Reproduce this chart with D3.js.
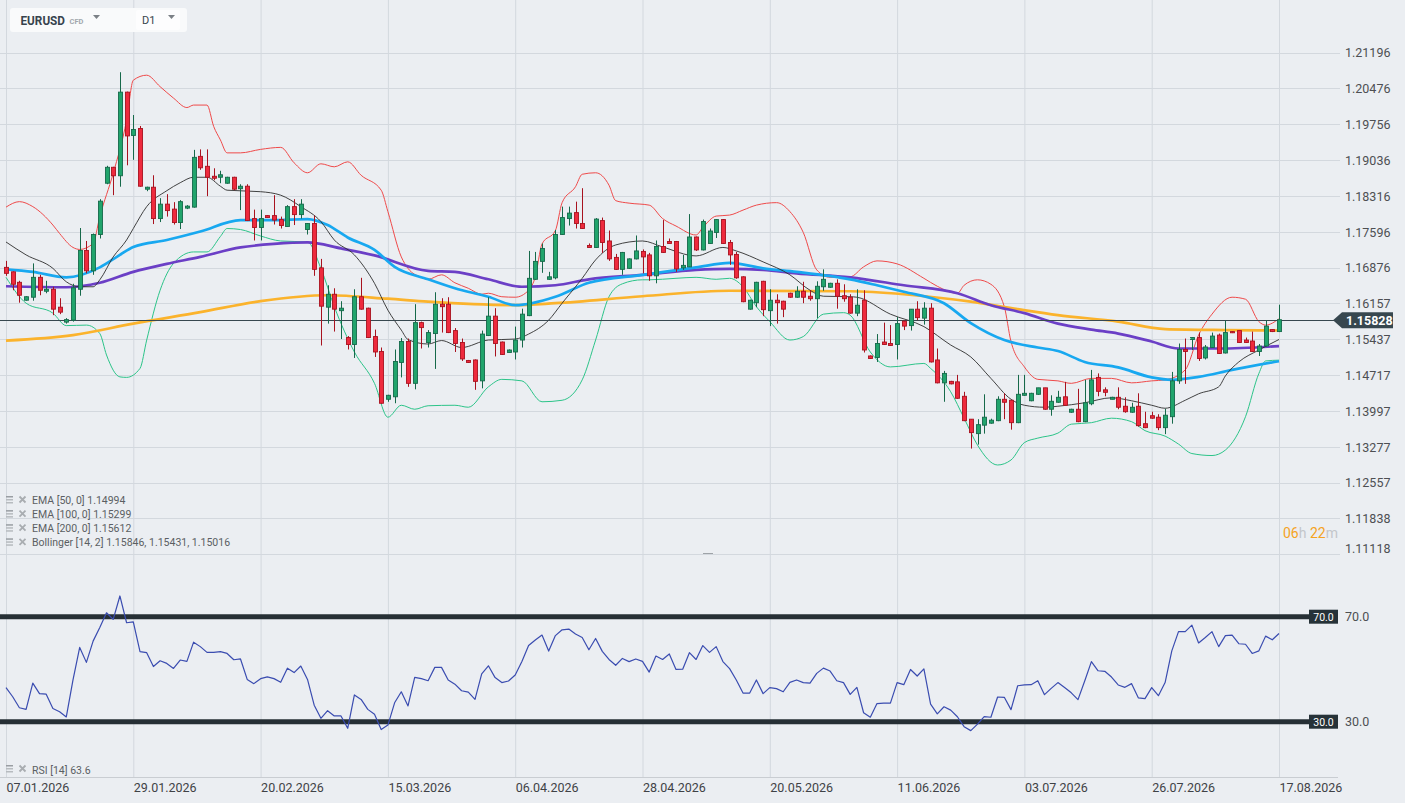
<!DOCTYPE html>
<html>
<head>
<meta charset="utf-8">
<script src="https://cdn.jsdelivr.net/npm/d3@7"></script>
<style>
  body { margin: 0; background: #ebeef2; font-family: Roboto, "Noto Sans", sans-serif; }
  svg { display: block; }
</style>
</head>
<body>
<div id="chart"></div>
<script>
// ---- data ----
const dateLabels = ["07.01.2026", "29.01.2026", "20.02.2026", "15.03.2026", "06.04.2026", "28.04.2026",
  "20.05.2026", "11.06.2026", "03.07.2026", "26.07.2026", "17.08.2026"];
const dateIdx = [0, 19, 38, 57, 76, 95, 114, 133, 152, 171, 190];

const priceTicks = [1.21196, 1.20476, 1.19756, 1.19036, 1.18316, 1.17596, 1.16876, 1.16157,
  1.15437, 1.14717, 1.13997, 1.13277, 1.12557, 1.11838, 1.11118];

const open = [1.1688,1.1679,1.1658,1.1622,1.1628,1.1668,1.1640,1.1644,1.1608,1.1578,
  1.1582,1.1644,1.1722,1.1681,1.1754,1.1857,1.1889,1.1872,1.2040,1.1953,
  1.1967,1.1845,1.1849,1.1786,1.1815,1.1805,1.1778,1.1807,1.1809,1.1911,
  1.1891,1.1871,1.1869,1.1857,1.1869,1.1846,1.1851,1.1786,1.1768,1.1792,
  1.1792,1.1784,1.1770,1.1810,1.1794,1.1764,1.1776,1.1687,1.1608,1.1634,
  1.1601,1.1547,1.1533,1.1629,1.1606,1.1549,1.1519,1.1423,1.1428,1.1497,
  1.1539,1.1455,1.1577,1.1537,1.1555,1.1614,1.1614,1.1561,1.1537,1.1501,
  1.1502,1.1460,1.1551,1.1590,1.1538,1.1517,1.1518,1.1542,1.1591,1.1664,
  1.1700,1.1664,1.1667,1.1754,1.1786,1.1798,1.1776,1.1732,1.1728,1.1782,
  1.1741,1.1708,1.1684,1.1686,1.1705,1.1720,1.1713,1.1671,1.1730,1.1740,
  1.1740,1.1687,1.1689,1.1749,1.1723,1.1736,1.1758,1.1784,1.1738,1.1714,
  1.1669,1.1604,1.1617,1.1660,1.1601,1.1622,1.1620,1.1636,1.1628,1.1640,
  1.1630,1.1625,1.1649,1.1648,1.1656,1.1631,1.1628,1.1596,1.1622,1.1510,
  1.1507,1.1538,1.1535,1.1533,1.1580,1.1571,1.1604,1.1586,1.1606,1.1502,
  1.1456,1.1459,1.1458,1.1429,1.1383,1.1354,1.1371,1.1375,1.1380,1.1423,
  1.1421,1.1376,1.1431,1.1420,1.1433,1.1446,1.1403,1.1417,1.1428,1.1397,
  1.1403,1.1378,1.1414,1.1467,1.1442,1.1423,1.1427,1.1409,1.1397,1.1409,
  1.1374,1.1390,1.1387,1.1366,1.1388,1.1460,1.1523,1.1543,1.1547,1.1506,
  1.1527,1.1552,1.1516,1.1559,1.1561,1.1542,1.1540,1.1519,1.1530,1.1563,
  1.1559];
const high = [1.1701,1.1680,1.1661,1.1630,1.1696,1.1673,1.1661,1.1649,1.1626,1.1586,
  1.1655,1.1767,1.1741,1.1756,1.1825,1.1892,1.1890,1.2080,1.2041,1.1994,
  1.1972,1.1850,1.1873,1.1827,1.1835,1.1819,1.1823,1.1813,1.1924,1.1925,
  1.1925,1.1887,1.1882,1.1870,1.1870,1.1855,1.1855,1.1804,1.1804,1.1793,
  1.1833,1.1790,1.1813,1.1825,1.1825,1.1777,1.1792,1.1705,1.1652,1.1646,
  1.1620,1.1550,1.1644,1.1667,1.1607,1.1563,1.1527,1.1432,1.1523,1.1546,
  1.1545,1.1614,1.1579,1.1562,1.1638,1.1626,1.1628,1.1566,1.1545,1.1502,
  1.1503,1.1561,1.1628,1.1606,1.1539,1.1523,1.1569,1.1605,1.1721,1.1719,
  1.1736,1.1679,1.1763,1.1810,1.1810,1.1820,1.1847,1.1736,1.1787,1.1788,
  1.1762,1.1715,1.1719,1.1706,1.1752,1.1724,1.1717,1.1742,1.1783,1.1746,
  1.1741,1.1713,1.1795,1.1750,1.1784,1.1766,1.1785,1.1785,1.1743,1.1719,
  1.1670,1.1623,1.1659,1.1661,1.1644,1.1634,1.1621,1.1637,1.1650,1.1659,
  1.1642,1.1660,1.1684,1.1657,1.1664,1.1654,1.1634,1.1644,1.1642,1.1511,
  1.1554,1.1577,1.1572,1.1588,1.1581,1.1604,1.1620,1.1618,1.1616,1.1525,
  1.1480,1.1460,1.1472,1.1438,1.1383,1.1383,1.1433,1.1384,1.1429,1.1435,
  1.1421,1.1472,1.1472,1.1436,1.1446,1.1446,1.1431,1.1440,1.1458,1.1404,
  1.1444,1.1462,1.1482,1.1475,1.1447,1.1428,1.1447,1.1427,1.1416,1.1435,
  1.1398,1.1398,1.1393,1.1404,1.1478,1.1535,1.1545,1.1548,1.1557,1.1532,
  1.1557,1.1555,1.1581,1.1560,1.1561,1.1547,1.1559,1.1534,1.1582,1.1564,
  1.1613];
const low = [1.1671,1.1642,1.1617,1.1621,1.1621,1.1632,1.1636,1.1592,1.1594,1.1575,
  1.1579,1.1631,1.1676,1.1673,1.1746,1.1855,1.1833,1.1850,1.1893,1.1904,
  1.1850,1.1841,1.1775,1.1779,1.1790,1.1774,1.1765,1.1805,1.1808,1.1884,
  1.1831,1.1863,1.1857,1.1856,1.1843,1.1803,1.1781,1.1742,1.1742,1.1788,
  1.1774,1.1766,1.1770,1.1773,1.1786,1.1754,1.1671,1.1531,1.1575,1.1559,
  1.1544,1.1523,1.1506,1.1603,1.1546,1.1508,1.1414,1.1418,1.1415,1.1467,
  1.1448,1.1443,1.1525,1.1527,1.1484,1.1557,1.1556,1.1518,1.1500,1.1496,
  1.1442,1.1445,1.1550,1.1509,1.1512,1.1517,1.1503,1.1527,1.1590,1.1663,
  1.1677,1.1663,1.1664,1.1753,1.1772,1.1766,1.1765,1.1728,1.1727,1.1717,
  1.1701,1.1683,1.1673,1.1685,1.1704,1.1676,1.1661,1.1656,1.1717,1.1736,
  1.1679,1.1683,1.1689,1.1721,1.1722,1.1735,1.1747,1.1735,1.1693,1.1665,
  1.1618,1.1603,1.1608,1.1590,1.1570,1.1575,1.1588,1.1627,1.1627,1.1616,
  1.1621,1.1586,1.1641,1.1647,1.1605,1.1619,1.1595,1.1590,1.1517,1.1504,
  1.1498,1.1532,1.1530,1.1503,1.1562,1.1561,1.1582,1.1573,1.1497,1.1455,
  1.1418,1.1453,1.1424,1.1379,1.1324,1.1332,1.1354,1.1374,1.1379,1.1383,
  1.1362,1.1375,1.1430,1.1419,1.1432,1.1402,1.1390,1.1416,1.1410,1.1396,
  1.1377,1.1377,1.1411,1.1429,1.1429,1.1423,1.1403,1.1396,1.1396,1.1368,
  1.1365,1.1384,1.1361,1.1353,1.1374,1.1454,1.1454,1.1522,1.1500,1.1503,
  1.1526,1.1514,1.1515,1.1556,1.1536,1.1536,1.1518,1.1510,1.1529,1.1558,
  1.1558];
const close = [1.1676,1.1654,1.1632,1.1629,1.1668,1.1642,1.1644,1.1604,1.1598,1.1583,
  1.1647,1.1722,1.1681,1.1754,1.1821,1.1889,1.1872,1.2040,1.1952,1.1965,
  1.1851,1.1849,1.1786,1.1815,1.1802,1.1778,1.1820,1.1811,1.1909,1.1888,
  1.1869,1.1867,1.1874,1.1869,1.1845,1.1851,1.1782,1.1768,1.1786,1.1788,
  1.1783,1.1772,1.1810,1.1794,1.1815,1.1776,1.1684,1.1610,1.1634,1.1604,
  1.1606,1.1533,1.1629,1.1604,1.1547,1.1518,1.1415,1.1431,1.1499,1.1539,
  1.1455,1.1577,1.1567,1.1557,1.1614,1.1609,1.1557,1.1535,1.1504,1.1497,
  1.1459,1.1554,1.1590,1.1535,1.1513,1.1522,1.1542,1.1594,1.1666,1.1700,
  1.1726,1.1669,1.1754,1.1788,1.1797,1.1776,1.1766,1.1728,1.1785,1.1738,
  1.1705,1.1684,1.1718,1.1705,1.1721,1.1709,1.1671,1.1730,1.1718,1.1736,
  1.1685,1.1692,1.1749,1.1723,1.1780,1.1761,1.1784,1.1736,1.1713,1.1667,
  1.1619,1.1622,1.1658,1.1603,1.1622,1.1617,1.1604,1.1628,1.1640,1.1628,
  1.1625,1.1650,1.1664,1.1656,1.1630,1.1625,1.1596,1.1612,1.1522,1.1505,
  1.1535,1.1533,1.1531,1.1575,1.1570,1.1604,1.1587,1.1606,1.1498,1.1456,
  1.1475,1.1454,1.1425,1.1380,1.1356,1.1372,1.1387,1.1381,1.1423,1.1417,
  1.1376,1.1433,1.1435,1.1435,1.1446,1.1403,1.1419,1.1427,1.1411,1.1403,
  1.1378,1.1416,1.1462,1.1439,1.1437,1.1427,1.1407,1.1398,1.1407,1.1370,
  1.1366,1.1385,1.1366,1.1391,1.1460,1.1523,1.1519,1.1547,1.1505,1.1528,
  1.1550,1.1515,1.1557,1.1557,1.1537,1.1537,1.1519,1.1530,1.1570,1.1559,
  1.15828];

const ema50Idx = [0,4,9,14,17,19,24,29,35,40,45,48,51,55,58,63,67,72,76,82,87,95,103,108,113,118,126,130,134,140,144,149,154,157,161,166,171,174,178,183,190];
const ema50 = [1.1684,1.1679,1.1668,1.1688,1.1713,1.1729,1.1743,1.1760,1.1783,1.1783,1.1785,1.1773,1.1748,1.1723,1.1689,1.1664,1.1646,1.1629,1.1612,1.1629,1.1657,1.1673,1.1688,1.1697,1.1686,1.1679,1.1664,1.1652,1.1639,1.1616,1.1576,1.1542,1.1527,1.1520,1.1498,1.1487,1.1467,1.1462,1.1468,1.1482,1.14994];

const ema100Idx = [0,9,14,19,24,29,35,40,45,50,55,63,67,72,77,82,87,95,103,108,113,118,126,134,142,147,152,157,162,166,171,175,181,190];
const ema100 = [1.1650,1.1648,1.1657,1.1679,1.1695,1.1709,1.1728,1.1735,1.1738,1.1726,1.1712,1.1681,1.1679,1.1664,1.1649,1.1652,1.1664,1.1673,1.1683,1.1685,1.1683,1.1676,1.1668,1.1652,1.1636,1.1612,1.1596,1.1575,1.1563,1.1555,1.1539,1.1525,1.1525,1.15299];

const ema200Idx = [0,10,19,29,38,48,57,63,76,82,95,108,126,134,144,151,157,166,173,182,190];
const ema200 = [1.1541,1.1552,1.1575,1.1598,1.1620,1.1632,1.1625,1.1619,1.1612,1.1616,1.1630,1.1641,1.1640,1.1634,1.1619,1.1604,1.1592,1.1579,1.1564,1.1562,1.15612];

const bbUpperIdx = [0,2,4,7,8,10,11,13,14,16,18,19,21,23,25,27,28,30,31,32,33,35,38,41,43,45,47,49,51,53,56,57,59,60,62,63,65,67,69,71,72,74,76,78,79,80,82,83,85,86,88,90,91,93,96,98,100,103,104,106,108,110,112,115,117,119,121,123,126,128,130,133,137,139,142,143,145,147,149,150,152,154,157,159,162,165,168,171,173,176,178,180,183,185,187,188,190];
const bbUpper = [1.1809,1.1820,1.1810,1.1773,1.1756,1.1728,1.1724,1.1736,1.1790,1.1877,
  1.1984,1.2064,1.2074,1.2051,1.2028,1.2009,1.2014,1.2014,1.1971,1.1944,
  1.1918,1.1918,1.1925,1.1929,1.1898,1.1878,1.1896,1.1890,1.1900,1.1873,
  1.1843,1.1800,1.1709,1.1686,1.1668,1.1664,1.1673,1.1657,1.1646,1.1634,
  1.1636,1.1629,1.1628,1.1642,1.1669,1.1735,1.1762,1.1818,1.1850,1.1875,
  1.1878,1.1853,1.1822,1.1817,1.1813,1.1786,1.1771,1.1753,1.1768,1.1791,
  1.1793,1.1803,1.1813,1.1818,1.1800,1.1758,1.1683,1.1668,1.1669,1.1689,
  1.1701,1.1695,1.1666,1.1650,1.1636,1.1652,1.1663,1.1654,1.1609,1.1539,
  1.1488,1.1463,1.1460,1.1455,1.1465,1.1465,1.1456,1.1460,1.1462,1.1482,
  1.1552,1.1594,1.1628,1.1624,1.1579,1.1572,1.15846];

const bbMidIdx = [0,3,7,9,11,13,14,16,18,19,21,24,26,28,30,32,33,38,41,44,47,49,52,55,57,59,60,63,65,68,72,76,78,81,83,86,88,91,95,98,103,107,109,113,117,120,122,126,127,132,137,141,144,147,150,152,155,157,161,165,168,171,173,176,178,181,182,184,187,190];
const bbMid = [1.1739,1.1713,1.1686,1.1659,1.1649,1.1649,1.1663,1.1709,1.1743,1.1766,
  1.1810,1.1842,1.1858,1.1869,1.1869,1.1851,1.1843,1.1840,1.1833,1.1810,
  1.1780,1.1743,1.1713,1.1656,1.1602,1.1562,1.1543,1.1534,1.1541,1.1527,
  1.1542,1.1544,1.1554,1.1582,1.1616,1.1666,1.1703,1.1733,1.1741,1.1729,
  1.1711,1.1728,1.1721,1.1699,1.1673,1.1642,1.1630,1.1629,1.1628,1.1594,
  1.1569,1.1532,1.1508,1.1465,1.1423,1.1411,1.1407,1.1409,1.1416,1.1426,
  1.1420,1.1411,1.1405,1.1421,1.1434,1.1448,1.1470,1.1498,1.1522,1.15431];

const bbLowerIdx = [0,3,7,9,12,14,15,17,18,20,21,23,25,28,30,32,33,35,38,41,45,47,49,52,55,57,59,61,63,67,69,72,74,77,80,83,86,88,90,92,95,96,100,103,106,108,110,112,114,117,119,122,125,126,129,132,137,138,141,143,145,148,150,152,154,157,159,162,165,168,170,173,175,177,180,182,185,187,188,190];
const bbLower = [1.1668,1.1616,1.1596,1.1571,1.1572,1.1555,1.1512,1.1468,1.1467,1.1485,
  1.1542,1.1642,1.1696,1.1719,1.1719,1.1750,1.1766,1.1764,1.1751,1.1741,
  1.1739,1.1686,1.1609,1.1518,1.1455,1.1387,1.1411,1.1403,1.1410,1.1411,
  1.1407,1.1448,1.1463,1.1460,1.1418,1.1421,1.1462,1.1542,1.1629,1.1655,
  1.1663,1.1663,1.1666,1.1668,1.1664,1.1666,1.1649,1.1609,1.1579,1.1542,
  1.1549,1.1594,1.1597,1.1592,1.1518,1.1488,1.1495,1.1485,1.1438,1.1385,
  1.1331,1.1291,1.1301,1.1336,1.1345,1.1355,1.1373,1.1376,1.1385,1.1378,
  1.1360,1.1349,1.1333,1.1314,1.1310,1.1321,1.1388,1.1475,1.1500,1.15016];

const rsi = [43.0,39.5,35.3,34.7,44.7,40.7,40.5,35.0,33.8,31.8,
  45.9,58.3,52.6,60.7,65.9,71.5,69.0,77.9,67.7,68.0,
  56.7,56.3,51.0,53.2,52.2,50.3,53.5,53.0,60.3,58.6,
  56.4,56.4,56.7,56.0,53.6,53.9,46.1,44.5,46.4,47.1,
  46.4,45.0,50.4,48.7,51.2,46.1,36.3,31.3,34.2,32.2,
  32.2,27.5,40.2,38.5,34.7,32.8,27.0,28.7,37.2,41.4,
  36.0,46.9,46.4,45.6,50.7,50.7,45.9,44.3,41.8,41.3,
  38.5,48.2,51.3,46.8,44.9,45.5,47.8,52.9,59.0,61.1,
  63.0,56.9,62.8,65.0,65.3,63.4,62.1,57.4,61.7,56.8,
  53.7,51.5,54.1,52.9,53.9,53.0,48.9,55.0,53.7,55.8,
  49.9,50.0,56.3,53.7,59.0,56.4,58.6,52.9,50.2,45.9,
  40.9,40.9,45.9,40.7,43.0,42.6,41.4,45.0,45.9,44.9,
  44.7,48.4,50.4,49.3,45.6,44.9,40.4,43.1,33.4,31.7,
  36.9,37.1,37.1,44.9,44.1,49.9,47.4,50.1,36.7,33.0,
  35.7,34.4,31.9,28.1,26.6,29.1,31.9,31.7,39.4,39.3,
  34.6,43.7,44.0,44.1,45.6,40.3,42.7,44.9,43.0,41.0,
  38.4,45.5,52.9,49.4,49.2,47.0,44.0,43.1,44.5,39.1,
  38.8,43.0,39.9,44.9,57.0,64.3,64.3,66.8,60.0,62.1,
  64.3,58.6,62.8,63.0,59.7,59.5,56.0,57.0,62.6,61.2,
  63.6];
const rsiLevels = [70, 30];

const lastPrice = 1.15828;
const legendRows = ["EMA [50, 0] 1.14994", "EMA [100, 0] 1.15299", "EMA [200, 0] 1.15612",
  "Bollinger [14, 2] 1.15846, 1.15431, 1.15016"];

// ---- layout ----
const W = 1405, H = 803;
const gridRight = 1340;
const axisY = 777;

const x = d3.scaleLinear().domain([0, 190]).range([6, 1279]);
const y = d3.scaleLinear().domain([1.11118, 1.21196]).range([554.2, 52.5]);
const yR = d3.scaleLinear().domain([30, 70]).range([721.7, 616.7]);

const svg = d3.select("#chart").append("svg")
  .attr("width", W).attr("height", H)
  .style("background", "#ebeef2");

svg.append("defs").append("clipPath").attr("id", "mainClip")
  .append("rect").attr("x", 0).attr("y", 0).attr("width", gridRight).attr("height", 556);

// vertical grid
svg.append("g").selectAll("line").data(dateIdx).enter().append("line")
  .attr("x1", d => x(d) + 0.5).attr("x2", d => x(d) + 0.5)
  .attr("y1", 0).attr("y2", axisY)
  .attr("stroke", "#d3d8de").attr("stroke-width", 1);

// horizontal grid
svg.append("g").selectAll("line").data(priceTicks).enter().append("line")
  .attr("x1", 0).attr("x2", gridRight)
  .attr("y1", d => Math.round(y(d)) + 0.5).attr("y2", d => Math.round(y(d)) + 0.5)
  .attr("stroke", "#d3d8de").attr("stroke-width", 1);

// price axis
const yAxis = svg.append("g").attr("transform", "translate(1345,0)")
  .call(d3.axisRight(y).tickValues(priceTicks).tickSize(0).tickPadding(0)
    .tickFormat(d3.format(".5f")));
yAxis.select(".domain").remove();
yAxis.selectAll("text")
  .attr("font-family", "Roboto, sans-serif").attr("font-size", 12.5)
  .attr("fill", "#4d4f52")
  .attr("dy", (d) => d === 1.11118 ? "-0.15em" : "0.35em");

// indicator lines
const main = svg.append("g").attr("clip-path", "url(#mainClip)");
const lineOf = (idx, vals) => d3.line()
  .x((d, i) => x(idx[i]))
  .y(d => y(d))
  .curve(d3.curveMonotoneX)(vals);

const series = [
  { idx: bbUpperIdx, vals: bbUpper, color: "#ef4a4a", w: 1 },
  { idx: bbLowerIdx, vals: bbLower, color: "#2cc489", w: 1 },
  { idx: ema200Idx, vals: ema200, color: "#fbb32c", w: 2.7 },
  { idx: ema100Idx, vals: ema100, color: "#6b3fc6", w: 2.7 },
  { idx: ema50Idx, vals: ema50, color: "#18a8f0", w: 2.7 },
  { idx: bbMidIdx, vals: bbMid, color: "#2e2e2e", w: 0.9 }
];
series.forEach(s => {
  main.append("path")
    .attr("d", lineOf(s.idx, s.vals))
    .attr("fill", "none")
    .attr("stroke", s.color)
    .attr("stroke-width", s.w)
    .attr("stroke-linejoin", "round");
});

// current price line
main.append("line")
  .attr("x1", 0).attr("x2", 1334)
  .attr("y1", Math.round(y(lastPrice)) + 0.5).attr("y2", Math.round(y(lastPrice)) + 0.5)
  .attr("stroke", "#37474f").attr("stroke-width", 1);

// candles
const candles = main.append("g");
d3.range(open.length).forEach(i => {
  const up = close[i] >= open[i];
  const cx = Math.round(x(i)) + 0.5;
  const dark = up ? "#16694a" : "#a8121f";
  const fill = up ? "#21a46c" : "#ee2a3d";
  candles.append("line")
    .attr("x1", cx).attr("x2", cx)
    .attr("y1", y(high[i])).attr("y2", y(low[i]))
    .attr("stroke", dark).attr("stroke-width", 1);
  const top = y(Math.max(open[i], close[i]));
  const bot = y(Math.min(open[i], close[i]));
  candles.append("rect")
    .attr("x", cx - 2).attr("width", 4)
    .attr("y", top).attr("height", Math.max(1.2, bot - top))
    .attr("fill", fill).attr("stroke", dark).attr("stroke-width", 0.9);
});

// current price tag
const py = y(lastPrice) + 0.5;
svg.append("path")
  .attr("d", `M1333,${py} L1342,${py - 8} L1393,${py - 8} L1393,${py + 8} L1342,${py + 8} Z`)
  .attr("fill", "#37474f");
svg.append("text").attr("x", 1346).attr("y", py + 4.5)
  .attr("font-size", 12.5).attr("font-weight", "bold").attr("fill", "#ffffff")
  .text(d3.format(".5f")(lastPrice));

// header box
const hdr = svg.append("g");
hdr.append("rect").attr("x", 10).attr("y", 8).attr("width", 177).attr("height", 24).attr("rx", 3)
  .attr("fill", "#f9fafb");
hdr.append("rect").attr("x", 136).attr("y", 10).attr("width", 44).attr("height", 20).attr("rx", 2)
  .attr("fill", "#fdfdfe");
hdr.append("text").attr("x", 20.5).attr("y", 24.5).attr("font-size", 12).attr("font-weight", "bold")
  .attr("textLength", 44.5).attr("lengthAdjust", "spacingAndGlyphs")
  .attr("fill", "#37434d").text("EURUSD");
hdr.append("text").attr("x", 69.5).attr("y", 23.5).attr("font-size", 7.5).attr("font-weight", "bold")
  .attr("fill", "#a3a8ad").text("CFD");
hdr.append("path").attr("d", "M93,15 L100,15 L96.5,19 Z").attr("fill", "#7b8086");
hdr.append("text").attr("x", 142).attr("y", 24).attr("font-size", 11)
  .attr("fill", "#37434d").text("D1");
hdr.append("path").attr("d", "M168,15 L175,15 L171.5,19 Z").attr("fill", "#7b8086");

// legend icons
function legendIcon(g, yc) {
  g.append("rect").attr("x", 6).attr("y", yc - 4).attr("width", 7).attr("height", 1.5).attr("fill", "#9a9ea3");
  g.append("rect").attr("x", 6).attr("y", yc - 1).attr("width", 7).attr("height", 1.5).attr("fill", "#b7bbbf");
  g.append("rect").attr("x", 6).attr("y", yc + 2).attr("width", 7).attr("height", 1.5).attr("fill", "#b7bbbf");
  g.append("path").attr("d", `M19.5,${yc - 3.5} L25.5,${yc + 2.5} M25.5,${yc - 3.5} L19.5,${yc + 2.5}`)
    .attr("stroke", "#a9adb1").attr("stroke-width", 1.8);
}
const legend = svg.append("g");
legendRows.forEach((t, i) => {
  const yc = 500 + i * 14.1;
  legendIcon(legend, yc);
  legend.append("text").attr("x", 32).attr("y", yc + 4).attr("font-size", 10.5)
    .attr("fill", "#5b5f63").text(t);
});

// countdown
const timer = svg.append("text").attr("x", 1283).attr("y", 538).attr("font-size", 14);
timer.append("tspan").attr("fill", "#f5a31f").text("06");
timer.append("tspan").attr("fill", "#c3c6ca").text("h ");
timer.append("tspan").attr("fill", "#f5a31f").text("22");
timer.append("tspan").attr("fill", "#c3c6ca").text("m");

// panel separator handle
svg.append("line").attr("x1", 703).attr("x2", 713).attr("y1", 553.5).attr("y2", 553.5)
  .attr("stroke", "#9ea3a8").attr("stroke-width", 1);

// RSI panel
const rsiG = svg.append("g");
rsiLevels.forEach(lv => {
  rsiG.append("line").attr("x1", 0).attr("x2", 1310)
    .attr("y1", yR(lv)).attr("y2", yR(lv))
    .attr("stroke", "#262f35").attr("stroke-width", 5);
  rsiG.append("rect").attr("x", 1309).attr("y", yR(lv) - 7).attr("width", 29).attr("height", 14)
    .attr("fill", "#263238");
  rsiG.append("text").attr("x", 1323.5).attr("y", yR(lv) + 4).attr("text-anchor", "middle")
    .attr("font-size", 10.5).attr("fill", "#ffffff").text(d3.format(".1f")(lv));
  rsiG.append("text").attr("x", 1345).attr("y", yR(lv) + 4.5)
    .attr("font-size", 12.5).attr("fill", "#4d4f52").text(d3.format(".1f")(lv));
});

rsiG.append("path")
  .attr("d", d3.line().x((d, i) => x(i)).y(d => yR(d))(rsi))
  .attr("fill", "none").attr("stroke", "#3a4cb0").attr("stroke-width", 1.2)
  .attr("stroke-linejoin", "round");

legendIcon(rsiG, 769);
rsiG.append("text").attr("x", 32).attr("y", 773.5).attr("font-size", 10.5)
  .attr("fill", "#5b5f63").text("RSI [14] " + rsi[rsi.length - 1].toFixed(1));

// time axis
svg.append("line").attr("x1", 0).attr("x2", 1338).attr("y1", axisY + 0.5).attr("y2", axisY + 0.5)
  .attr("stroke", "#c9cdd2").attr("stroke-width", 1);
const xAxis = svg.append("g").attr("transform", `translate(0,${axisY})`)
  .call(d3.axisBottom(x).tickValues(dateIdx).tickSize(0).tickPadding(0)
    .tickFormat((d, i) => dateLabels[i]));
xAxis.select(".domain").remove();
xAxis.selectAll("text")
  .attr("text-anchor", "start")
  .attr("dy", 0).attr("y", 14.5)
  .attr("font-family", "Roboto, sans-serif").attr("font-size", 12.5)
  .attr("fill", "#3f4246");
</script>
</body>
</html>
